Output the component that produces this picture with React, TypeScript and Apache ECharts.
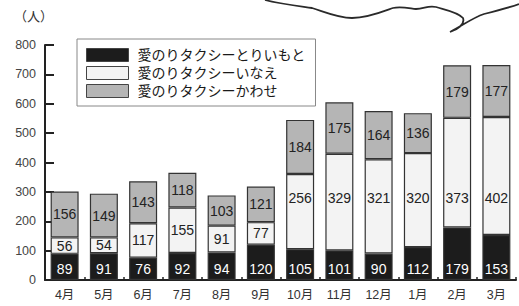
import React, { useEffect, useRef } from "react";
import * as echarts from "echarts";

const months = ["4月", "5月", "6月", "7月", "8月", "9月", "10月", "11月", "12月", "1月", "2月", "3月"];
const seriesNames = ["愛のりタクシーとりいもと", "愛のりタクシーいなえ", "愛のりタクシーかわせ"];
const torii = [89, 91, 76, 92, 94, 120, 105, 101, 90, 112, 179, 153];
const inae = [56, 54, 117, 155, 91, 77, 256, 329, 321, 320, 373, 402];
const kawase = [156, 149, 143, 118, 103, 121, 184, 175, 164, 136, 179, 177];
const yTicks = [0, 100, 200, 300, 400, 500, 600, 700, 800];

const W = 519;
const H = 306;
const GRID_TOP = 45;
const GRID_BOTTOM = 26;
const Y_MAX = 800;
const WHITE_LABEL_VALUE = 280;

const cloudPath =
  "M 265 0 C 280 4, 298 6, 312 8 C 325 12, 338 18, 352 18 C 368 18, 382 12, 393 8 C 400 6, 408 8, 416 9 C 424 9, 428 5, 436 7 C 446 10, 458 12, 463 18 C 465 24, 458 29, 450 32 C 462 26, 472 18, 484 14 C 496 11, 508 8, 519 4";

export default function App() {
  const ref = useRef<HTMLDivElement>(null);
  useEffect(() => {
    if (!ref.current) return;
    document.body.style.margin = "0";
    try {
      echarts.graphic.registerShape("cloud", echarts.graphic.extendPath(cloudPath, {}) as any);
    } catch (e) {}
    const chart = echarts.init(ref.current, undefined, { renderer: "svg" });
    const plotH = H - GRID_TOP - GRID_BOTTOM;
    const whiteLineY = GRID_TOP + plotH * (1 - WHITE_LABEL_VALUE / Y_MAX);
    const font = "'Liberation Sans', 'Noto Sans CJK JP', sans-serif";
    const colors = ["#1c1c1c", "#f3f3f3", "#b5b5b5"];
    const datas = [torii, inae, kawase];
    chart.setOption({
      animation: false,
      textStyle: { fontFamily: font },
      grid: { left: 45, right: 3, top: GRID_TOP, bottom: GRID_BOTTOM, containLabel: false },
      legend: {
        orient: "vertical",
        left: 77,
        top: 39,
        padding: [9, 10, 8, 9],
        borderColor: "#888",
        borderWidth: 1,
        itemWidth: 42,
        itemHeight: 13,
        itemGap: 4,
        icon: "rect",
        itemStyle: { borderColor: "#444", borderWidth: 1 },
        textStyle: { fontSize: 14, color: "#1a1a1a", padding: [0, 0, 0, 4], fontFamily: font },
        data: seriesNames,
      },
      xAxis: {
        type: "category",
        data: months,
        axisLine: { lineStyle: { color: "#222", width: 2 } },
        axisTick: { show: true, inside: true, length: 3, lineStyle: { color: "#222", width: 1.5 } },
        axisLabel: { fontSize: 12.5, color: "#333", margin: 9 },
      },
      yAxis: {
        type: "value",
        min: 0,
        max: Y_MAX,
        interval: 100,
        splitLine: { show: false },
        axisLine: { show: true, lineStyle: { color: "#222", width: 2 } },
        axisTick: { show: true, inside: true, length: 9, lineStyle: { color: "#222", width: 2 } },
        axisLabel: {
          fontSize: 12.5,
          color: "#444",
          margin: 9,
          formatter: (v: number) => (yTicks.includes(v) ? String(v) : ""),
        },
      },
      graphic: [
        {
          type: "text",
          left: 14,
          top: 10,
          style: { text: "（人）", fontSize: 13, fill: "#333", fontFamily: font },
        },
        {
          type: "cloud",
          x: 0,
          y: 0,
          silent: true,
          style: { fill: "none", stroke: "#2a2a2a", lineWidth: 1.8 },
        },
      ],
      series: seriesNames.map((name, i) => ({
        name,
        type: "bar",
        stack: "total",
        barWidth: 28,
        data: datas[i],
        itemStyle: { color: colors[i], borderColor: "#333", borderWidth: 1.2 },
        label: {
          show: true,
          position: i === 0 ? "insideBottom" : "inside",
          distance: 4,
          fontSize: 14,
          color: i === 0 ? "#fff" : "#222",
          fontFamily: font,
        },
        labelLayout:
          i === 1
            ? (params: any) => {
                const r = params.rect;
                if (r && r.y < whiteLineY && r.y + r.height > whiteLineY + 10) {
                  return { x: r.x + r.width / 2, y: whiteLineY, align: "center", verticalAlign: "middle" };
                }
                return {};
              }
            : undefined,
      })),
    });
    return () => chart.dispose();
  }, []);
  return <div ref={ref} style={{ width: W, height: H }} />;
}
